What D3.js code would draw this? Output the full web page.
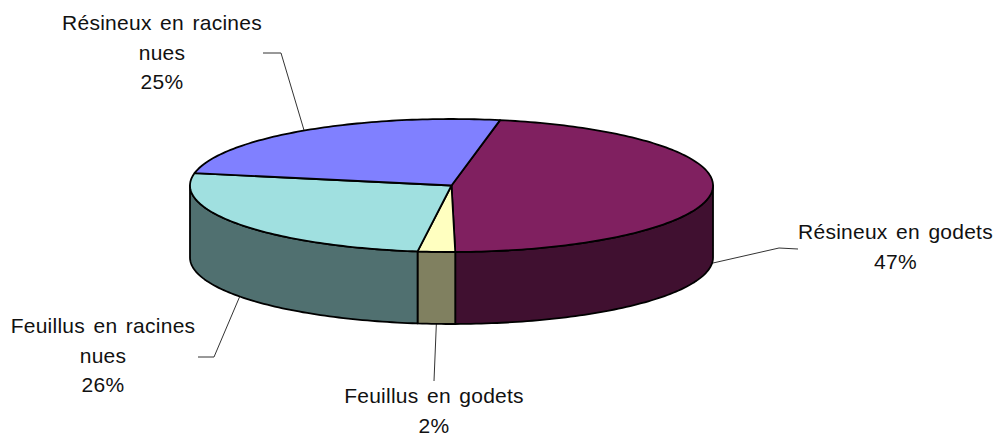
<!doctype html>
<html lang="fr">

<head>
    <meta charset="utf-8">
    <title>Pie 3D</title>
    <script src="https://cdn.jsdelivr.net/npm/d3@7"></script>
    <style>
        html, body { margin: 0; padding: 0; background: #fff; }
        svg { display: block; }
        text { font-family: "Liberation Sans", Arial, sans-serif; font-size: 21px; letter-spacing: 0.25px; word-spacing: 2.4px; fill: #111; }
    </style>
</head>

<body>
    <svg></svg>
    <script>
        var categories = ["Résineux en godets", "Feuillus en godets", "Feuillus en racines nues", "Résineux en racines nues"];
        // the labels show them rounded
        var values = [46.8, 2.3, 25.9, 25];
        var topColors = ["#802060", "#ffffc0", "#a0e0e0", "#8080ff"];
        var sideColors = ["#401030", "#808060", "#507070", "#404080"];
        var labelLines = [
            ["Résineux en godets"],
            ["Feuillus en godets"],
            ["Feuillus en racines", "nues"],
            ["Résineux en racines", "nues"]
        ];

        var width = 998;
        var height = 433;
        var depth = 72;
        var firstAngle = 10.7 * Math.PI / 180;
        var lineHeight = 29.5;

        // label centre / first baseline and the elbow of each leader line
        var labelPos = [
            { x: 895.5, y: 239, elbow: [[779, 248], [798, 249]] },
            { x: 434, y: 403, elbow: [[434, 381]] },
            { x: 103, y: 333, elbow: [[214, 357], [198, 357]] },
            { x: 162, y: 30, elbow: [[281, 53], [263, 53]] }
        ];

        // the pie is a unit circle squashed into an ellipse
        var xScale = d3.scaleLinear().domain([-1, 1]).range([190, 713]);
        var yScale = d3.scaleLinear().domain([-1, 1]).range([119, 252]);

        var svg = d3.select('svg').attr('width', width).attr('height', height);

        var pie = d3.pie()
            .sort(null)
            .startAngle(firstAngle)
            .endAngle(firstAngle + 2 * Math.PI);
        var slices = pie(values);

        function rimPoint(a, drop) {
            return [xScale(Math.sin(a)), yScale(-Math.cos(a)) + (drop || 0)];
        }

        function arcPoints(a0, a1, drop) {
            var n = Math.max(2, Math.ceil(Math.abs(a1 - a0) / 0.02));
            return d3.range(n + 1).map(function (i) {
                return rimPoint(a0 + (a1 - a0) * i / n, drop);
            });
        }

        var line = d3.line();

        // leader lines go first, the pie covers their ends
        slices.forEach(function (d, i) {
            var mid = (d.startAngle + d.endAngle) / 2;
            var isFront = Math.cos(mid) < 0;
            var start = rimPoint(mid, isFront ? depth : 0);
            svg.append('path')
                .attr('d', line([start].concat(labelPos[i].elbow)))
                .attr('fill', 'none')
                .attr('stroke', '#333')
                .attr('stroke-width', 1);
        });

        // side walls: only the front half of the rim is visible
        var frontStart = Math.PI / 2;
        var frontEnd = 3 * Math.PI / 2;
        slices.forEach(function (d, i) {
            var a0 = Math.max(d.startAngle, frontStart);
            var a1 = Math.min(d.endAngle, frontEnd);
            if (a1 <= a0) return;
            var pts = arcPoints(a0, a1, 0).concat(arcPoints(a1, a0, depth));
            svg.append('path')
                .attr('d', line(pts) + 'Z')
                .attr('fill', sideColors[i])
                .attr('stroke', '#000')
                .attr('stroke-width', 1.8)
                .attr('stroke-linejoin', 'round');
        });

        // top faces
        var centre = [xScale(0), yScale(0)];
        slices.forEach(function (d, i) {
            var pts = [centre].concat(arcPoints(d.startAngle, d.endAngle, 0));
            svg.append('path')
                .attr('d', line(pts) + 'Z')
                .attr('fill', topColors[i])
                .attr('stroke', '#000')
                .attr('stroke-width', 1.8)
                .attr('stroke-linejoin', 'round');
        });

        // labels: name lines then the rounded percentage
        labelLines.forEach(function (lines, i) {
            var t = svg.append('text').attr('text-anchor', 'middle');
            lines.concat([Math.round(values[i]) + '%']).forEach(function (s, j) {
                t.append('tspan')
                    .attr('x', labelPos[i].x)
                    .attr('y', labelPos[i].y + j * lineHeight)
                    .text(s);
            });
        });
    </script>

</body>

</html>
